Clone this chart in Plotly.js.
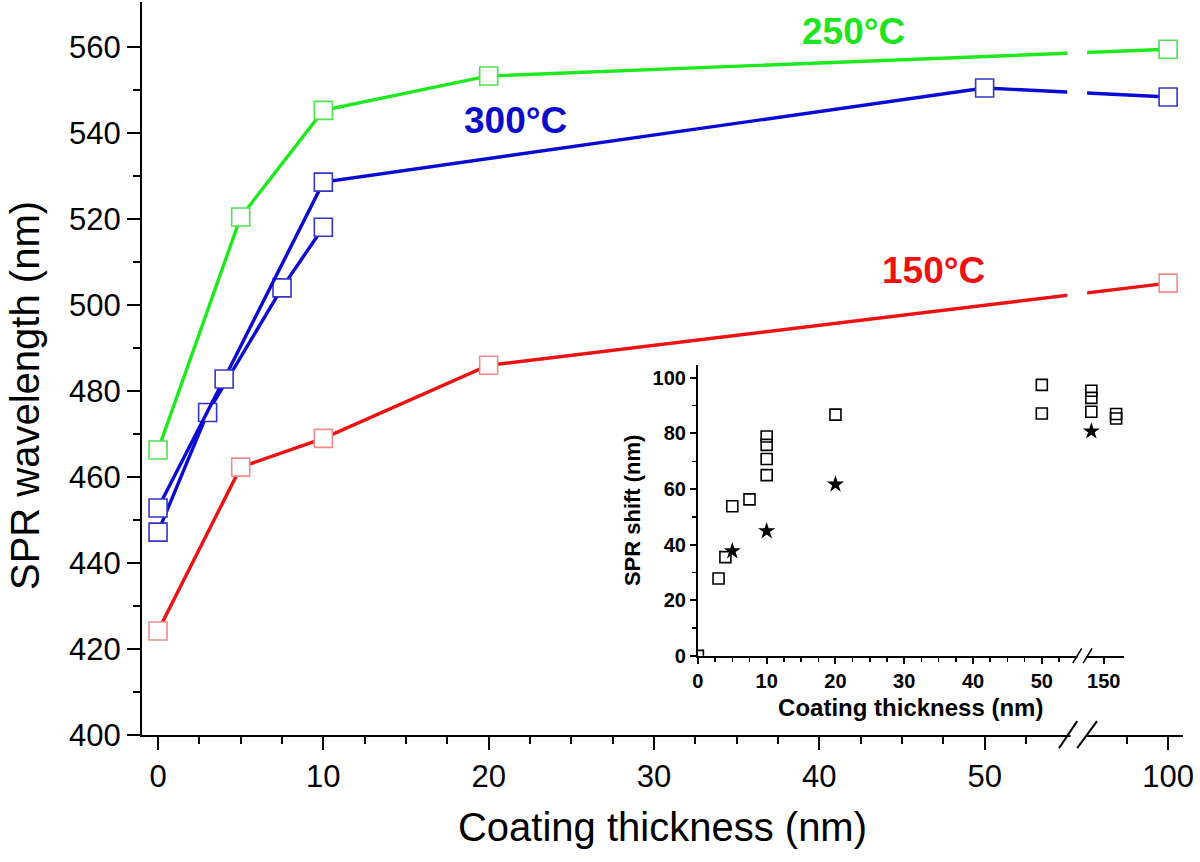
<!DOCTYPE html>
<html>
<head>
<meta charset="utf-8">
<script src="https://cdn.plot.ly/plotly-3.0.1.min.js"></script>
<style>
  body { margin: 0; background: #fff; }
  #graph { width: 1200px; height: 862px; }
</style>
</head>
<body>
<div id="graph"></div>
<script>
// main chart: SPR wavelength vs coating thickness
let T250 = [0, 5, 10, 20, 100]
let W250 = [466.3, 520.5, 545.3, 553.3, 559.5]
let T300a = [0, 4, 10, 50, 100]
let W300a = [452.8, 482.8, 528.6, 550.5, 548.4]
let T300b = [0, 3, 7.5, 10]
let W300b = [447.2, 475, 504, 518.1]
let T150 = [0, 5, 10, 20, 100]
let W150 = [424.2, 462.3, 469, 486, 505.1]
let MAIN_TICKS = [0, 10, 20, 30, 40, 50, 100]
let Y_TICKS = [400, 420, 440, 460, 480, 500, 520, 540, 560]

// inset: SPR shift
let INSET_SQ_T = [0, 3, 4, 5, 7.5, 10, 10, 10, 10, 20, 50, 50, 100, 100, 100, 200, 200]
let INSET_SQ_S = [0, 27.8, 35.5, 53.8, 56.3, 65, 70.8, 75.9, 78.9, 86.8, 87.2, 97.5, 95.4, 92.8, 87.8, 87, 85.4]
let INSET_ST_T = [5, 10, 20, 100]
let INSET_ST_S = [37.7, 44.9, 61.7, 80.8]
let INSET_TICKS = [0, 10, 20, 30, 40, 50, 150]
let INSET_Y_TICKS = [0, 20, 40, 60, 80, 100]

// broken axis: 0..50 linear, then jump
function main_pos(t) { return t <= 50 ? t : t - 38.9 }
function inset_pos(t) { return t <= 50 ? t : 59 + (t - 150) * 0.036 }

function range_step(a, b, s) {
  let out = []
  for (let v = a; v <= b + 1e-9; v += s) out.push(v)
  return out
}

let FONT = "Liberation Sans, Arial, sans-serif"

function make_series(t, w, line_color, marker_color, name) {
  return {
    x: t.map(main_pos), y: w, name: name,
    mode: "lines+markers", type: "scatter",
    line: { color: line_color, width: 3.4 },
    marker: { symbol: "square", size: 18, color: "white", line: { color: marker_color, width: 1.6 } },
    cliponaxis: false,
    showlegend: false
  }
}

let data = [
  make_series(T150, W150, "#ee1111", "#f08c8c", "150°C"),
  make_series(T300b, W300b, "#0a0ad2", "#3535c8", "300°C b"),
  make_series(T300a, W300a, "#0a0ad2", "#3535c8", "300°C"),
  make_series(T250, W250, "#1ee81e", "#50e050", "250°C"),
  {
    x: INSET_SQ_T.map(inset_pos), y: INSET_SQ_S, xaxis: "x2", yaxis: "y2",
    mode: "markers", type: "scatter", showlegend: false,
    marker: { symbol: "square-open", size: 11, color: "black", line: { width: 1.6 } }
  },
  {
    x: INSET_ST_T.map(inset_pos), y: INSET_ST_S, xaxis: "x2", yaxis: "y2",
    mode: "markers", type: "scatter", showlegend: false,
    marker: { symbol: "star", size: 13, color: "black" }
  }
]

let main_minor_x = range_step(2.5, 52.5, 2.5).filter(v => v % 10 != 0).concat([main_pos(97.5)])
let inset_minor_x = range_step(2.5, 52.5, 2.5).filter(v => v % 10 != 0)

let layout = {
  width: 1200, height: 862,
  margin: { l: 142, r: 17, t: 2, b: 127 },
  paper_bgcolor: "white", plot_bgcolor: "white",
  font: { family: FONT, color: "black" },
  xaxis: {
    range: [-0.97, 62.0], domain: [0, 1], anchor: "y",
    showgrid: false, zeroline: false,
    showline: true, linewidth: 2, linecolor: "black",
    ticks: "outside", ticklen: 13, tickwidth: 2, tickcolor: "black",
    tickmode: "array", tickvals: MAIN_TICKS.map(main_pos), ticktext: MAIN_TICKS.map(String),
    tickfont: { size: 31, family: FONT },
    minor: { tickvals: main_minor_x, ticks: "outside", ticklen: 7, tickwidth: 2, tickcolor: "black" },
    title: { text: "Coating thickness (nm)", font: { size: 40, family: FONT }, standoff: 20 }
  },
  yaxis: {
    range: [400, 570.5], domain: [0, 1], anchor: "x",
    showgrid: false, zeroline: false,
    showline: true, linewidth: 2, linecolor: "black",
    ticks: "outside", ticklen: 13, tickwidth: 2, tickcolor: "black",
    tickmode: "array", tickvals: Y_TICKS,
    tickfont: { size: 31, family: FONT },
    minor: { tickvals: range_step(410, 550, 20), ticks: "outside", ticklen: 7, tickwidth: 2, tickcolor: "black" }
  },
  xaxis2: {
    range: [0, 61.9], domain: [0.534, 0.943], anchor: "y2",
    showgrid: false, zeroline: false,
    showline: true, linewidth: 2, linecolor: "black",
    ticks: "outside", ticklen: 6, tickwidth: 2, tickcolor: "black",
    tickmode: "array", tickvals: INSET_TICKS.map(inset_pos), ticktext: INSET_TICKS.map(String),
    tickfont: { size: 20, family: FONT, weight: "bold" },
    minor: { tickvals: inset_minor_x, ticks: "outside", ticklen: 4, tickwidth: 1.5, tickcolor: "black" },
    title: { text: "Coating thickness (nm)", font: { size: 24, family: FONT, weight: "bold" }, standoff: 8 }
  },
  yaxis2: {
    range: [0, 104.7], domain: [0.108, 0.505], anchor: "x2",
    showgrid: false, zeroline: false,
    showline: true, linewidth: 2, linecolor: "black",
    ticks: "outside", ticklen: 6, tickwidth: 2, tickcolor: "black",
    tickmode: "array", tickvals: INSET_Y_TICKS,
    tickfont: { size: 20, family: FONT, weight: "bold" },
    minor: { tickvals: range_step(10, 90, 20), ticks: "outside", ticklen: 4, tickwidth: 1.5, tickcolor: "black" },
    title: { text: "SPR shift (nm)", font: { size: 22, family: FONT, weight: "bold" }, standoff: 6 }
  },
  annotations: [
    { text: "250°C", x: 853, y: 32, showarrow: false, font: { size: 37, color: "#1fe31f", weight: "bold" } },
    { text: "300°C", x: 515, y: 120, showarrow: false, font: { size: 37, color: "#0a0ac8", weight: "bold" } },
    { text: "150°C", x: 933, y: 270, showarrow: false, font: { size: 37, color: "#ee1111", weight: "bold" } },
    // y axis title sits a bit below the middle of the axis in the original
    { text: "SPR wavelength (nm)", x: 25, y: 396, textangle: -90, showarrow: false,
      font: { size: 40, color: "black" } }
  ],
  shapes: [
    // gap in the lines at the break
    { type: "rect", xref: "x", yref: "y", x0: 55.0, x1: 56.2, y0: 490, y1: 568,
      fillcolor: "white", line: { width: 0 }, layer: "above" },
    // main axis break
    { type: "rect", xref: "x", yref: "paper", x0: 55.2, x1: 56.2, y0: -0.006, y1: 0.006,
      fillcolor: "white", line: { width: 0 }, layer: "above" },
    { type: "line", xref: "x", yref: "paper", x0: 54.5, x1: 55.6, y0: -0.018, y1: 0.019,
      line: { color: "black", width: 2 }, layer: "above" },
    { type: "line", xref: "x", yref: "paper", x0: 55.6, x1: 56.8, y0: -0.018, y1: 0.019,
      line: { color: "black", width: 2 }, layer: "above" },
    // inset axis break
    { type: "rect", xref: "x2", yref: "paper", x0: 55.2, x1: 56.5, y0: 0.102, y1: 0.114,
      fillcolor: "white", line: { width: 0 }, layer: "above" },
    { type: "line", xref: "x2", yref: "paper", x0: 54.5, x1: 55.8, y0: 0.098, y1: 0.118,
      line: { color: "black", width: 1.5 }, layer: "above" },
    { type: "line", xref: "x2", yref: "paper", x0: 56.0, x1: 57.3, y0: 0.098, y1: 0.118,
      line: { color: "black", width: 1.5 }, layer: "above" }
  ]
}

// annotation positions given in pixels, converted to paper coords
function px_to_px(px) { return (px - 142) / 1041 }
function py_to_py(py) { return (735 - py) / 733 }
for (let a of layout.annotations) {
  a.x = px_to_px(a.x); a.y = py_to_py(a.y)
  a.xref = "paper"; a.yref = "paper"
  a.xanchor = "center"; a.yanchor = "middle"
  a.font.family = FONT
}

Plotly.newPlot("graph", data, layout, { staticPlot: true })
</script>
</body>
</html>
